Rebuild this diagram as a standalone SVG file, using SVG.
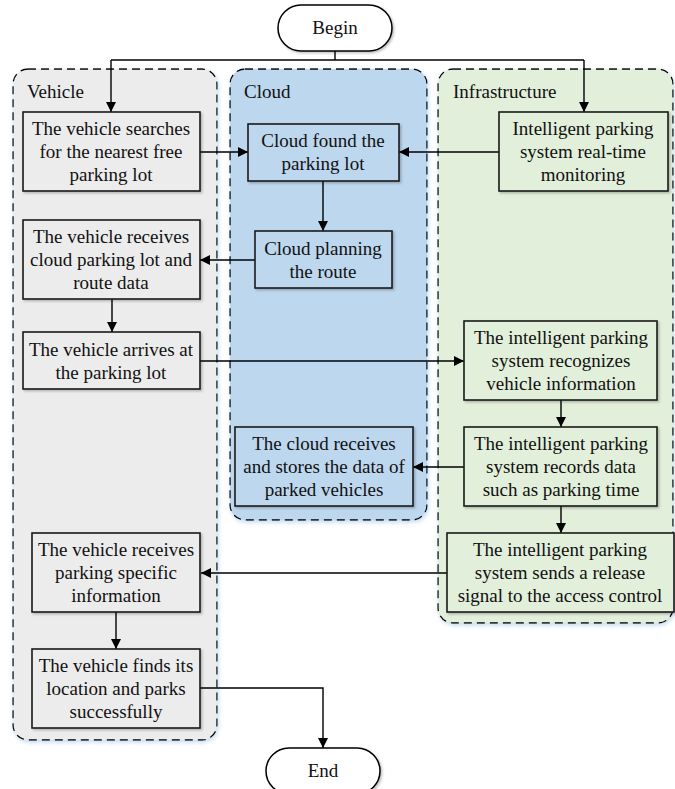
<svg xmlns="http://www.w3.org/2000/svg" width="675" height="789" viewBox="0 0 675 789" font-family="'Liberation Serif', 'DejaVu Serif', serif">
<style>
.lane{stroke:#000;stroke-width:1.3;stroke-dasharray:8,5}
.box{stroke:#1a1a1a;stroke-width:1.6}
.term{fill:#fff;stroke:#000;stroke-width:1.5}
text{font-family:'Liberation Serif','DejaVu Serif',serif;font-size:19px;fill:#111}
.c{text-anchor:middle}
.ln{fill:none;stroke:#000;stroke-width:1.4}
</style>
<defs>
<marker id="ah" viewBox="0 0 10 10" refX="10" refY="5" markerWidth="10" markerHeight="10" markerUnits="userSpaceOnUse" orient="auto">
<path d="M0,0 L10,5 L0,10 z" fill="#000"/>
</marker>
<filter id="sh" x="-10%" y="-10%" width="130%" height="130%">
<feDropShadow dx="1.5" dy="1.5" stdDeviation="1.2" flood-color="#000" flood-opacity="0.25"/>
</filter>
<filter id="glow" x="-10%" y="-10%" width="120%" height="120%">
<feDropShadow dx="1" dy="2" stdDeviation="2" flood-color="#9dc3e6" flood-opacity="0.6"/>
</filter>
</defs>

<g id="lane-vehicle">
<rect class="lane" x="13" y="69" width="204" height="671" rx="15" fill="#ececec" filter="url(#glow)"/>
<text x="27" y="98">Vehicle</text>
</g>
<g id="lane-cloud">
<rect class="lane" x="230" y="69" width="197" height="451" rx="15" fill="#bdd7ee" filter="url(#glow)"/>
<text x="244" y="98">Cloud</text>
</g>
<g id="lane-infrastructure">
<rect class="lane" x="438" y="69" width="235" height="554" rx="15" fill="#e2efda" filter="url(#glow)"/>
<text x="453" y="98">Infrastructure</text>
</g>

<g id="connectors">
<path class="ln" d="M335,51 V60"/>
<path class="ln" d="M111,60 H584"/>
<path class="ln" d="M111,60 V112" marker-end="url(#ah)"/>
<path class="ln" d="M584,60 V112" marker-end="url(#ah)"/>
<path class="ln" d="M200,152 H248" marker-end="url(#ah)"/>
<path class="ln" d="M499,152 H399" marker-end="url(#ah)"/>
<path class="ln" d="M323,181 V231" marker-end="url(#ah)"/>
<path class="ln" d="M255,260 H200" marker-end="url(#ah)"/>
<path class="ln" d="M112,299 V332" marker-end="url(#ah)"/>
<path class="ln" d="M200,361 H464" marker-end="url(#ah)"/>
<path class="ln" d="M561,400 V427" marker-end="url(#ah)"/>
<path class="ln" d="M464,467 H413" marker-end="url(#ah)"/>
<path class="ln" d="M561,506 V533" marker-end="url(#ah)"/>
<path class="ln" d="M447,573 H201" marker-end="url(#ah)"/>
<path class="ln" d="M116,612 V649" marker-end="url(#ah)"/>
<path class="ln" d="M200,688 H323 V748" marker-end="url(#ah)"/>
</g>

<g id="begin">
<rect class="term" x="278" y="5" width="114" height="46" rx="23" filter="url(#sh)"/>
<text class="c" x="335" y="34">Begin</text>
</g>

<g id="v1">
<rect class="box" x="23" y="112" width="177" height="79" fill="#ececec" filter="url(#sh)"/>
<text class="c" x="111" y="135">The vehicle searches</text>
<text class="c" x="111" y="158">for the nearest free</text>
<text class="c" x="111" y="181">parking lot</text>
</g>
<g id="c1">
<rect class="box" x="248" y="124" width="151" height="57" fill="#bdd7ee" filter="url(#sh)"/>
<text class="c" x="323" y="147">Cloud found the</text>
<text class="c" x="323" y="170">parking lot</text>
</g>
<g id="i1">
<rect class="box" x="499" y="112" width="169" height="79" fill="#e2efda" filter="url(#sh)"/>
<text class="c" x="583" y="135">Intelligent parking</text>
<text class="c" x="583" y="158">system real-time</text>
<text class="c" x="583" y="181">monitoring</text>
</g>
<g id="c2">
<rect class="box" x="255" y="231" width="137" height="57" fill="#bdd7ee" filter="url(#sh)"/>
<text class="c" x="323" y="255">Cloud planning</text>
<text class="c" x="323" y="278">the route</text>
</g>
<g id="v2">
<rect class="box" x="23" y="220" width="177" height="79" fill="#ececec" filter="url(#sh)"/>
<text class="c" x="111" y="243">The vehicle receives</text>
<text class="c" x="111" y="266">cloud parking lot and</text>
<text class="c" x="111" y="289">route data</text>
</g>
<g id="v3">
<rect class="box" x="23" y="332" width="177" height="57" fill="#ececec" filter="url(#sh)"/>
<text class="c" x="111" y="356">The vehicle arrives at</text>
<text class="c" x="111" y="379">the parking lot</text>
</g>
<g id="i2">
<rect class="box" x="464" y="321" width="193" height="79" fill="#e2efda" filter="url(#sh)"/>
<text class="c" x="561" y="344">The intelligent parking</text>
<text class="c" x="561" y="367">system recognizes</text>
<text class="c" x="561" y="390">vehicle information</text>
</g>
<g id="i3">
<rect class="box" x="464" y="427" width="193" height="79" fill="#e2efda" filter="url(#sh)"/>
<text class="c" x="561" y="450">The intelligent parking</text>
<text class="c" x="561" y="473">system records data</text>
<text class="c" x="561" y="496">such as parking time</text>
</g>
<g id="c3">
<rect class="box" x="235" y="427" width="178" height="79" fill="#bdd7ee" filter="url(#sh)"/>
<text class="c" x="324" y="450">The cloud receives</text>
<text class="c" x="324" y="473">and stores the data of</text>
<text class="c" x="324" y="496">parked vehicles</text>
</g>
<g id="i4">
<rect class="box" x="447" y="533" width="227" height="79" fill="#e2efda" filter="url(#sh)"/>
<text class="c" x="560" y="556">The intelligent parking</text>
<text class="c" x="560" y="579">system sends a release</text>
<text class="c" x="560" y="602">signal to the access control</text>
</g>
<g id="v4">
<rect class="box" x="32" y="533" width="168" height="79" fill="#ececec" filter="url(#sh)"/>
<text class="c" x="116" y="556">The vehicle receives</text>
<text class="c" x="116" y="579">parking specific</text>
<text class="c" x="116" y="602">information</text>
</g>
<g id="v5">
<rect class="box" x="32" y="649" width="168" height="79" fill="#ececec" filter="url(#sh)"/>
<text class="c" x="116" y="672">The vehicle finds its</text>
<text class="c" x="116" y="695">location and parks</text>
<text class="c" x="116" y="718">successfully</text>
</g>
<g id="end">
<rect class="term" x="266" y="748" width="114" height="46" rx="23" filter="url(#sh)"/>
<text class="c" x="323" y="777">End</text>
</g>
</svg>
